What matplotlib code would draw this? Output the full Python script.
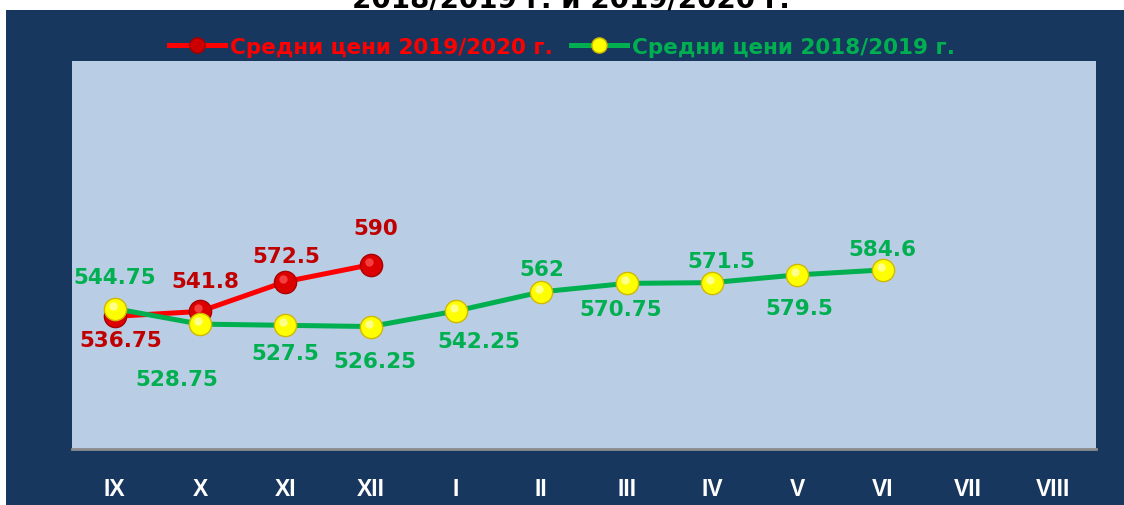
import matplotlib
matplotlib.use("Agg")
import matplotlib.pyplot as plt
from matplotlib.patches import Rectangle
from matplotlib.lines import Line2D
import matplotlib.transforms as mtransforms

# ---- data ----
months = ["IX", "X", "XI", "XII", "I", "II", "III", "IV", "V", "VI", "VII", "VIII"]
prices_2019_2020 = [536.75, 541.8, 572.5, 590]
prices_2018_2019 = [544.75, 528.75, 527.5, 526.25, 542.25, 562, 570.75, 571.5, 579.5, 584.6]
labels_2019_2020 = ["536.75", "541.8", "572.5", "590"]
labels_2018_2019 = ["544.75", "528.75", "527.5", "526.25", "542.25", "562", "570.75", "571.5", "579.5", "584.6"]
legend_2019_2020 = "Средни цени 2019/2020 г."
legend_2018_2019 = "Средни цени 2018/2019 г."
title_tail = "2018/2019 г. и 2019/2020 г."

# ---- label placement (pixel offsets) ----
off_red = [(6, -24), (5, 30), (1, 26), (5, 37)]
off_green = [(0, 32), (-23, -55), (0, -28), (4, -34), (23, -30), (0, 23),
             (-6, -26), (9, 22), (2, -33), (0, 21)]

NAVY = "#17375e"
PLOT_BG = "#b9cde5"
RED = "#ff0000"
DARKRED = "#c00000"
GREEN = "#00b050"

W, H = 1124, 506
fig = plt.figure(figsize=(W / 100, H / 100), dpi=100, facecolor="white")
bg = Rectangle((6 / W, 0), 1 - 6 / W, 1 - 11 / H, transform=fig.transFigure,
               facecolor=NAVY, edgecolor="none", zorder=-10)
fig.patches.append(bg)
fig.text(571 / W, 1 - 7.5 / H, title_tail, ha="center", va="baseline",
         fontsize=20, fontweight="bold", color="black", family="DejaVu Sans")

ax = fig.add_axes([72 / W, 1 - 450 / H, (1096 - 72) / W, (450 - 62) / H])
ax.set_zorder(1)
ax.set_facecolor(PLOT_BG)
ax.set_xlim(-0.5, len(months) - 0.5)
ax.set_ylim(400, 800)
for s in ["top", "left", "right"]:
    ax.spines[s].set_visible(False)
ax.spines["bottom"].set_color("#8c8c8c")
ax.spines["bottom"].set_linewidth(2)
ax.set_yticks([])
ax.set_xticks(range(len(months)))
ax.set_xticklabels(months, color="white", fontsize=16.5, fontweight="bold",
                   family="Liberation Sans")
ax.tick_params(axis="x", length=0, pad=20)

xr = list(range(len(prices_2019_2020)))
xg = list(range(len(prices_2018_2019)))

ax.plot(xr, prices_2019_2020, color=RED, lw=3.6, marker="o", ms=16,
        mfc="#dd0000", mec="#a80000", mew=1.0, zorder=3, solid_capstyle="round")
ax.plot(xg, prices_2018_2019, color=GREEN, lw=3.6, marker="o", ms=16,
        mfc="#ffff00", mec="#d0b800", mew=1.0, zorder=4, solid_capstyle="round")

# highlights for 3D look
hl = mtransforms.offset_copy(ax.transData, fig=fig, x=-2, y=3, units="dots")
ax.plot(xr, prices_2019_2020, ls="none", marker="o", ms=6, mfc="#ff5a5a", mec="none",
        alpha=0.7, transform=hl, zorder=3.5)
ax.plot(xg, prices_2018_2019, ls="none", marker="o", ms=6, mfc="#ffffb0", mec="none",
        alpha=0.8, transform=hl, zorder=4.5)

for x, v, t, o in zip(xr, prices_2019_2020, labels_2019_2020, off_red):
    ax.annotate(t, (x, v), xytext=o, textcoords="offset pixels", ha="center", va="center",
                fontsize=15.5, fontweight="bold", color=DARKRED, family="DejaVu Sans", zorder=6)
for x, v, t, o in zip(xg, prices_2018_2019, labels_2018_2019, off_green):
    ax.annotate(t, (x, v), xytext=o, textcoords="offset pixels", ha="center", va="center",
                fontsize=15.5, fontweight="bold", color=GREEN, family="DejaVu Sans", zorder=6)

h1 = Line2D([], [], color=RED, lw=3.6, marker="o", ms=11, mfc="#cc0000", mec="#a00000")
h2 = Line2D([], [], color=GREEN, lw=3.6, marker="o", ms=11, mfc="#ffff00", mec="#c8b000")
leg = fig.legend([h1, h2], [legend_2019_2020, legend_2018_2019], loc="center",
                 bbox_to_anchor=(562 / W, 1 - 48 / H), ncol=2, frameon=False,
                 prop={"family": "DejaVu Sans", "weight": "bold", "size": 15.5},
                 handlelength=2.6, handletextpad=0.25, columnspacing=0.8)
for txt, c in zip(leg.get_texts(), [RED, GREEN]):
    txt.set_color(c)

fig.savefig("out.png", dpi=100, facecolor="white")
